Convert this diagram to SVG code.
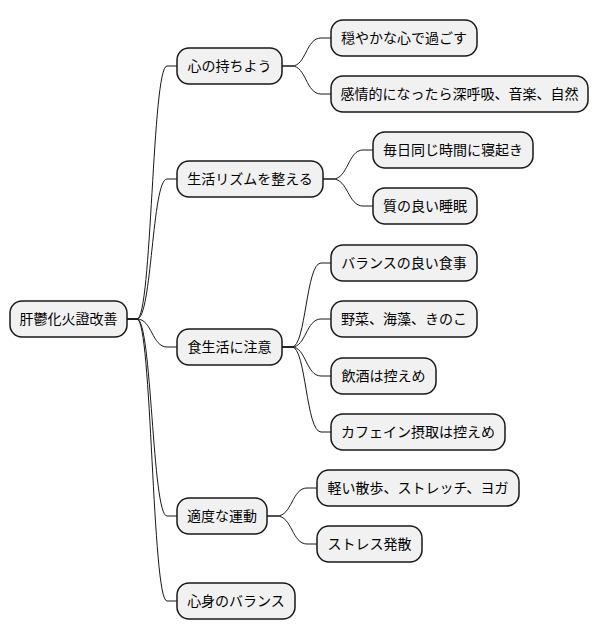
<svg xmlns="http://www.w3.org/2000/svg" width="600" height="640" viewBox="0 0 600 640">
<style>
.n rect{fill:#F1F1F1;stroke:#181818;stroke-width:1.5}
.n text{font-family:"Noto Sans CJK JP","Noto Sans",sans-serif;font-size:14px;fill:#000;text-anchor:middle}
#edges path{fill:none;stroke:#181818;stroke-width:1}
</style>
<rect width="600" height="640" fill="#fff"/>
<g id="edges">
<path d="M127,319 H137 C152,319 152,66 167,66 H177"/>
<path d="M127,319 H137 C152,319 152,179 167,179 H177"/>
<path d="M127,319 H137 C152,319 152,347 167,347 H177"/>
<path d="M127,319 H137 C152,319 152,516 167,516 H177"/>
<path d="M127,319 H137 C152,319 152,601 167,601 H177"/>
<path d="M282,66 H292 C306,66 306,38 321,38 H331"/>
<path d="M282,66 H292 C306,66 306,94 321,94 H331"/>
<path d="M323,179 H333 C348,179 348,150 363,150 H373"/>
<path d="M323,179 H333 C348,179 348,206 363,206 H373"/>
<path d="M282,347 H292 C306,347 306,263 321,263 H331"/>
<path d="M282,347 H292 C306,347 306,319 321,319 H331"/>
<path d="M282,347 H292 C306,347 306,376 321,376 H331"/>
<path d="M282,347 H292 C306,347 306,432 321,432 H331"/>
<path d="M267,516 H277 C292,516 292,488 307,488 H317"/>
<path d="M267,516 H277 C292,516 292,544 307,544 H317"/>
</g>
<g id="root" class="n"><rect x="10" y="301" width="117" height="36" rx="12"/><text x="68.5" y="324">肝鬱化火證改善</text></g>
<g id="n1" class="n"><rect x="177" y="48" width="105" height="36" rx="12"/><text x="229.5" y="71">心の持ちよう</text></g>
<g id="n2" class="n"><rect x="177" y="161" width="146" height="36" rx="12"/><text x="250" y="184">生活リズムを整える</text></g>
<g id="n3" class="n"><rect x="177" y="329" width="105" height="36" rx="12"/><text x="229.5" y="352">食生活に注意</text></g>
<g id="n4" class="n"><rect x="177" y="498" width="90" height="36" rx="12"/><text x="222" y="521">適度な運動</text></g>
<g id="n5" class="n"><rect x="177" y="583" width="118" height="36" rx="12"/><text x="236" y="606">心身のバランス</text></g>
<g id="n1a" class="n"><rect x="331" y="20" width="146" height="36" rx="12"/><text x="404" y="43">穏やかな心で過ごす</text></g>
<g id="n1b" class="n"><rect x="331" y="76" width="257" height="36" rx="12"/><text x="459.5" y="99">感情的になったら深呼吸、音楽、自然</text></g>
<g id="n2a" class="n"><rect x="373" y="132" width="160" height="36" rx="12"/><text x="453" y="155">毎日同じ時間に寝起き</text></g>
<g id="n2b" class="n"><rect x="373" y="188" width="104" height="36" rx="12"/><text x="425" y="211">質の良い睡眠</text></g>
<g id="n3a" class="n"><rect x="331" y="245" width="146" height="36" rx="12"/><text x="404" y="268">バランスの良い食事</text></g>
<g id="n3b" class="n"><rect x="331" y="301" width="146" height="36" rx="12"/><text x="404" y="324">野菜、海藻、きのこ</text></g>
<g id="n3c" class="n"><rect x="331" y="358" width="105" height="36" rx="12"/><text x="383.5" y="381">飲酒は控えめ</text></g>
<g id="n3d" class="n"><rect x="331" y="414" width="174" height="36" rx="12"/><text x="418" y="437">カフェイン摂取は控えめ</text></g>
<g id="n4a" class="n"><rect x="317" y="470" width="202" height="36" rx="12"/><text x="418" y="493">軽い散歩、ストレッチ、ヨガ</text></g>
<g id="n4b" class="n"><rect x="317" y="526" width="105" height="36" rx="12"/><text x="369.5" y="549">ストレス発散</text></g>
</svg>
